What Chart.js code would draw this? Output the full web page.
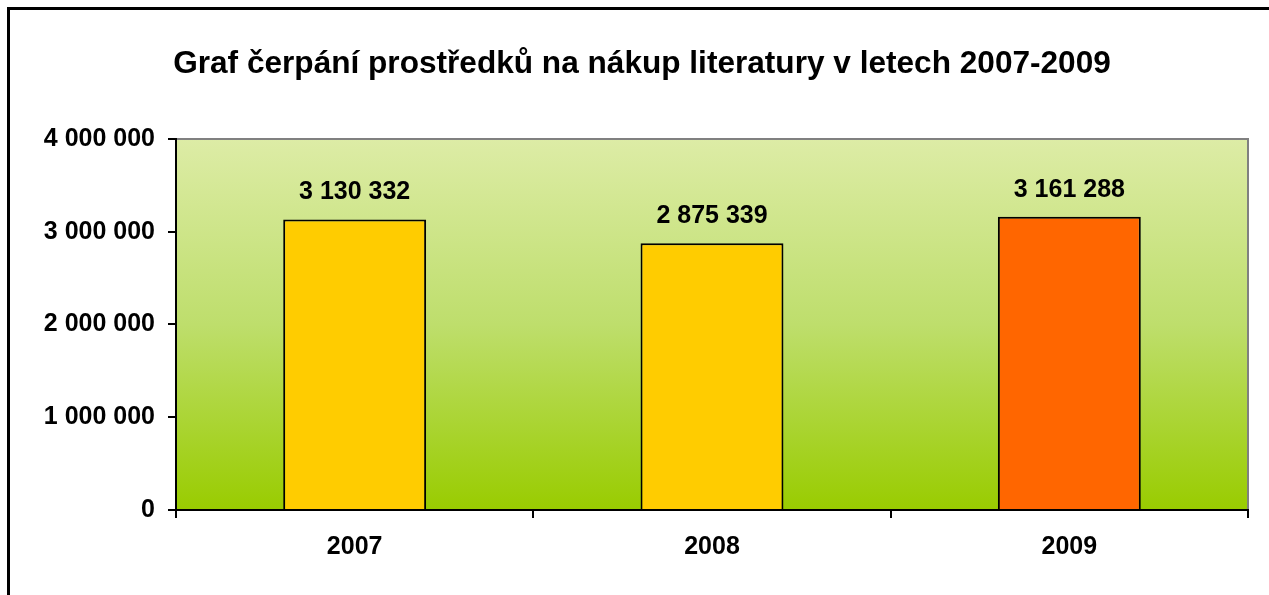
<!DOCTYPE html>
<html lang="cs">
<head>
  <meta charset="UTF-8">
  <title>Graf čerpání prostředků</title>
  <script src="https://cdn.jsdelivr.net/npm/chart.js"></script>
  <style>
    body { margin: 0; background: #fff; }
    #wrap { position: relative; width: 1269px; height: 595px; }
  </style>
</head>
<body>
  <div id="wrap"><canvas id="c" width="1269" height="595"></canvas></div>
  <script>
    const years = ["2007", "2008", "2009"];
    const amounts = [3130332, 2875339, 3161288];
    const barColors = ["#FFCC00", "#FFCC00", "#FF6600"];
    const yTicks = [0, 1000000, 2000000, 3000000, 4000000];

    const FONT = "'Liberation Sans', Arial, sans-serif";

    // 3 130 332 style
    function fmt(v) {
      return String(Math.round(v)).replace(/\B(?=(\d{3})+(?!\d))/g, " ");
    }

    // frame, plot background, top/right plot border
    const bgPlugin = {
      id: 'bg',
      beforeDraw(chart) {
        const { ctx, chartArea: a } = chart;
        ctx.save();
        ctx.strokeStyle = '#000';
        ctx.lineWidth = 3;
        ctx.strokeRect(8.5, 8.5, 1300, 700);
        const g = ctx.createLinearGradient(0, a.top, 0, a.bottom);
        g.addColorStop(0, '#DDECA6');
        g.addColorStop(0.5, '#BEDE6C');
        g.addColorStop(1, '#99CC00');
        ctx.fillStyle = g;
        ctx.fillRect(a.left, a.top, a.right - a.left, a.bottom - a.top);
        ctx.strokeStyle = '#808080';
        ctx.lineWidth = 2;
        ctx.beginPath();
        ctx.moveTo(a.left, a.top);
        ctx.lineTo(a.right, a.top);
        ctx.lineTo(a.right, a.bottom);
        ctx.stroke();
        ctx.restore();
      }
    };

    const labelPlugin = {
      id: 'vals',
      afterDatasetsDraw(chart) {
        const { ctx } = chart;
        const meta = chart.getDatasetMeta(0);
        ctx.save();
        ctx.font = "bold 25px " + FONT;
        ctx.fillStyle = '#000';
        ctx.textAlign = 'center';
        ctx.textBaseline = 'middle';
        meta.data.forEach((bar, i) => {
          ctx.fillText(fmt(amounts[i]), bar.x, bar.y - 27);
        });
        ctx.restore();
      }
    };

    new Chart(document.getElementById('c'), {
      type: 'bar',
      data: {
        labels: years,
        datasets: [{
          data: amounts,
          backgroundColor: barColors,
          borderColor: '#000',
          borderWidth: 2,
          borderSkipped: 'bottom',
          categoryPercentage: 0.4,
          barPercentage: 1
        }]
      },
      options: {
        responsive: false,
        animation: false,
        events: [],
        layout: { padding: { left: 36, right: 21, top: 0, bottom: 0 } },
        plugins: {
          legend: { display: false },
          tooltip: { enabled: false },
          title: {
            display: true,
            text: 'Graf čerpání prostředků na nákup literatury v letech 2007-2009',
            color: '#000',
            font: { family: FONT, size: 31.6, weight: 'bold', lineHeight: 1.2 },
            padding: { top: 45, bottom: 56 }
          }
        },
        scales: {
          x: {
            grid: { offset: true, drawOnChartArea: false, color: '#000', tickLength: 8, lineWidth: 2 },
            border: { color: '#000', width: 2 },
            ticks: { color: '#000', padding: 14, font: { family: FONT, size: 25, weight: 'bold' } },
            afterFit(s) { s.height = 85; }
          },
          y: {
            min: 0,
            max: 4000000,
            afterBuildTicks(s) { s.ticks = yTicks.map(v => ({ value: v })); },
            grid: { drawOnChartArea: false, color: '#000', tickLength: 8, lineWidth: 2 },
            border: { color: '#000', width: 2 },
            ticks: {
              color: '#000',
              padding: 13,
              font: { family: FONT, size: 25, weight: 'bold' },
              callback: v => fmt(v)
            },
            afterFit(s) { s.width = 140; }
          }
        }
      },
      plugins: [bgPlugin, labelPlugin]
    });
  </script>
</body>
</html>
